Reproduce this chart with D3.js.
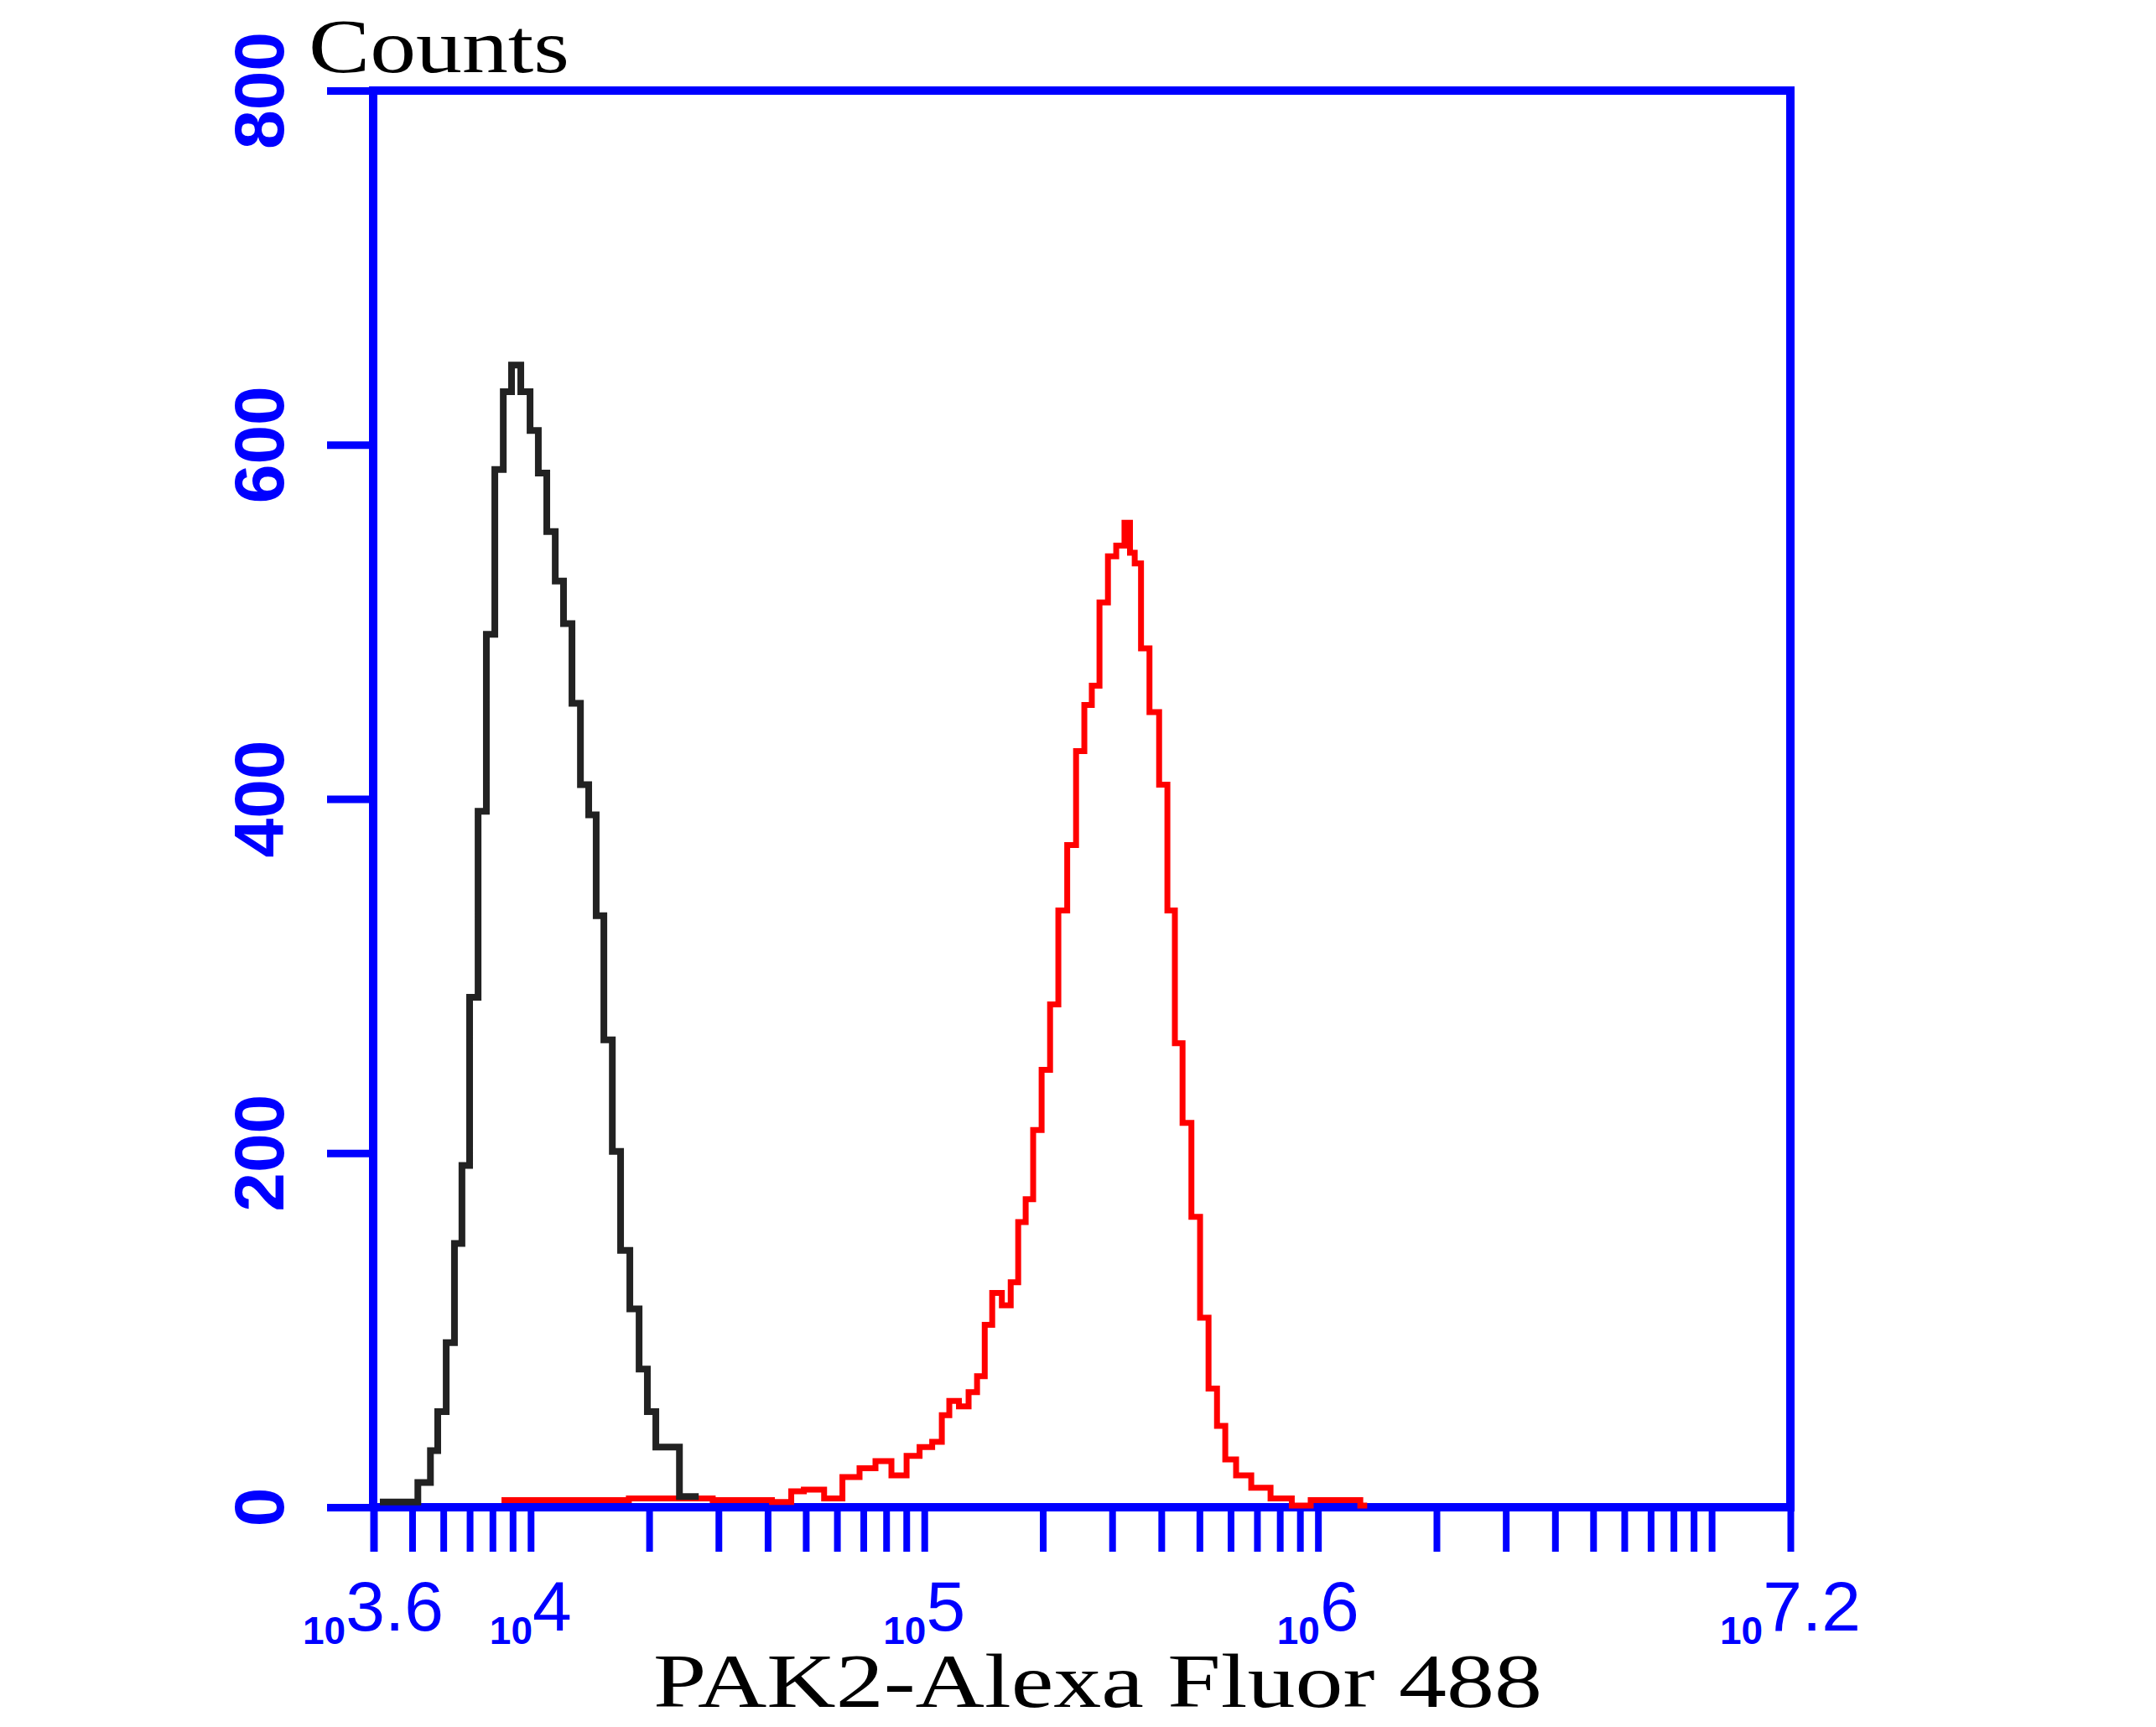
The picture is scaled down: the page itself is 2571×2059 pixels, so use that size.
<!DOCTYPE html>
<html><head><meta charset="utf-8">
<script src="https://cdn.jsdelivr.net/npm/d3@7"></script>
<style>body{margin:0;background:#fff}</style>
</head><body>
<svg id="c" width="2571" height="2059"></svg>
<script>
// Data: exponent of intensity (log10) and counts
const blackLog = [3.617,3.689,3.738,3.753,3.775,3.796,3.817,3.834,3.856,3.877,3.898,3.920,3.941,3.962,3.988,4.009,4.030,4.052,4.073,4.094,4.116,4.137,4.158,4.175,4.197,4.218,4.239,4.265,4.286,4.307,4.329,4.427];
const blackCounts = [3,3,14,32,54,93,149,193,288,393,493,586,630,645,630,608,584,551,523,499,454,408,391,334,264,201,145,112,78,54,34,6];
const redLog = [3.926,4.143,4.356,4.569,4.657,4.667,4.721,4.770,4.814,4.857,4.895,4.938,4.972,5.004,5.036,5.053,5.074,5.102,5.123,5.145,5.162,5.183,5.211,5.228,5.249,5.266,5.287,5.309,5.330,5.351,5.375,5.396,5.417,5.434,5.456,5.477,5.498,5.519,5.526,5.543,5.558,5.586,5.607,5.628,5.645,5.667,5.690,5.711,5.733,5.754,5.775,5.809,5.852,5.907,5.960,6.003,6.090,6.125];
const redCounts = [4,4,5,4,3,9,10,5,17,22,26,18,29,34,37,52,60,57,65,74,103,121,114,127,161,174,213,247,284,337,374,427,453,464,511,537,543,556,539,533,485,449,408,337,262,217,164,107,67,46,27,18,11,5,1,4,4,1];
const yTicks = [0,200,400,600,800];
const xLabels = [["10","3.6",3.6],["10","4",4],["10","5",5],["10","6",6],["10","7.2",7.2]];

const L=445,R=2135,T=108,B=1797;
const svg=d3.select("#c");
const x=d3.scaleLog().domain([Math.pow(10,3.6),Math.pow(10,7.2)]).range([L,R]);
const y=d3.scaleLinear().domain([0,800]).range([B,T]);
const blue="#0000ff";

const xt=[];
for(let d=3;d<=7;d++){for(let m=1;m<=9;m++){const v=m*Math.pow(10,d);if(v>=x.domain()[0]*0.999&&v<=x.domain()[1])xt.push(v);}}
xt.push(x.domain()[0]);xt.push(x.domain()[1]);
const xa=d3.axisBottom(x).tickValues(xt).tickSize(53).tickFormat("");
const gx=svg.append("g").attr("transform",`translate(0,${B})`).call(xa);
gx.selectAll("line").attr("stroke",blue).attr("stroke-width",8);
gx.select(".domain").remove();

const ya=d3.axisLeft(y).tickValues(yTicks).tickSize(55).tickFormat("");
const gy=svg.append("g").attr("transform",`translate(${L},0)`).call(ya);
gy.selectAll("line").attr("stroke",blue).attr("stroke-width",9);
gy.select(".domain").remove();

svg.append("rect").attr("x",L).attr("y",T).attr("width",R-L).attr("height",B-T)
 .attr("fill","none").attr("stroke",blue).attr("stroke-width",10);

yTicks.forEach(v=>{
  svg.append("text").attr("transform",`translate(338,${y(v)}) rotate(-90)`)
   .attr("text-anchor","middle").attr("font-family","Liberation Sans, Arial").attr("font-weight","bold")
   .attr("font-size",84).attr("fill",blue).text(v);
});
xLabels.forEach(([b,e,p])=>{
  const t=svg.append("text").attr("x",x(Math.pow(10,p))).attr("y",1960).attr("text-anchor","middle")
   .attr("font-family","Liberation Sans, Arial").attr("fill",blue);
  t.append("tspan").attr("font-size",46).attr("font-weight","bold").text(b);
  t.append("tspan").attr("font-size",84).attr("dy",-16).text(e);
});

const line=d3.line().x(d=>x(Math.pow(10,d[0]))).y(d=>y(d[1])).curve(d3.curveStep);
svg.append("path").datum(redLog.map((v,i)=>[v,redCounts[i]])).attr("d",line)
 .attr("fill","none").attr("stroke","#ff0000").attr("stroke-width",7);
svg.append("path").datum(blackLog.map((v,i)=>[v,blackCounts[i]])).attr("d",line)
 .attr("fill","none").attr("stroke","#222").attr("stroke-width",8);

svg.append("text").attr("x",368).attr("y",86).attr("font-family","Liberation Serif, serif")
 .attr("font-size",92).attr("textLength",311).attr("lengthAdjust","spacingAndGlyphs").text("Counts");
svg.append("text").attr("x",779).attr("y",2035).attr("font-family","Liberation Serif, serif")
 .attr("font-size",92).attr("textLength",1060).attr("lengthAdjust","spacingAndGlyphs").text("PAK2-Alexa Fluor 488");
</script>
</body></html>
